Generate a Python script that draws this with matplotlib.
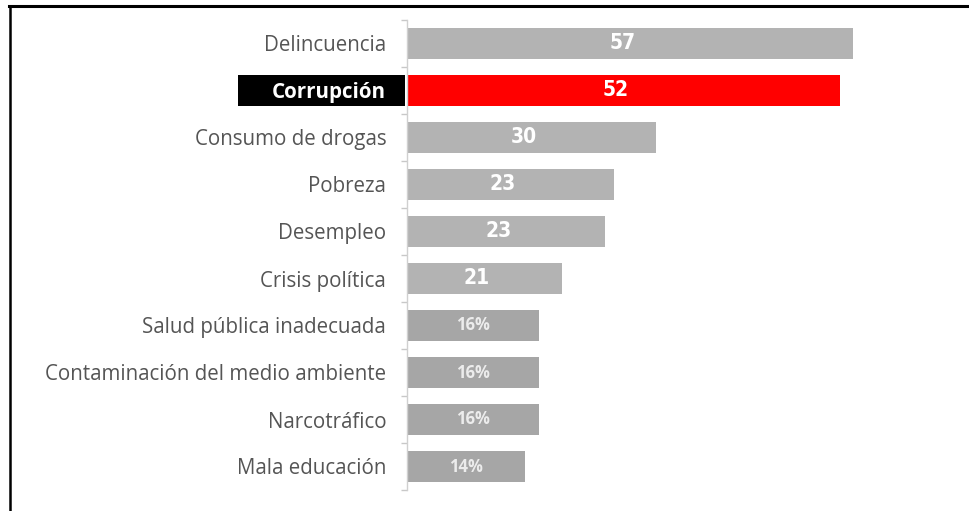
import matplotlib
matplotlib.use("Agg")
import matplotlib.pyplot as plt
import matplotlib.transforms as mtransforms
from matplotlib.patches import Rectangle
from matplotlib.lines import Line2D

# datos
categorias = ["Delincuencia", "Corrupción", "Consumo de drogas", "Pobreza",
              "Desempleo", "Crisis política", "Salud pública inadecuada",
              "Contaminación del medio ambiente", "Narcotráfico", "Mala educación"]
etiquetas = ["57", "52", "30", "23", "23", "21", "16%", "16%", "16%", "14%"]
# largo dibujado de cada barra (no proporcional a la etiqueta en el original)
largos = [57, 55.3, 31.8, 26.5, 25.3, 19.8, 16.9, 16.9, 16.9, 15.1]
destacado = "Corrupción"

W, H = 969, 511
fig = plt.figure(figsize=(W / 100, H / 100), dpi=100)
fig.patch.set_facecolor("white")

ax = fig.add_axes([407 / W, (H - 490) / H, (W - 407) / W, 470 / H])

colores = []
for i, c in enumerate(categorias):
    if c == destacado:
        colores.append("#ff0000")
    elif etiquetas[i].endswith("%"):
        colores.append("#a6a6a6")
    else:
        colores.append("#b3b3b3")

y = list(range(len(categorias)))
barras = ax.barh(y, largos, height=0.68, color=colores)

# etiquetas de valor dentro de las barras
for i, b in enumerate(barras):
    xc = b.get_x() + b.get_width() / 2
    if etiquetas[i].endswith("%"):
        ax.text(xc, i, etiquetas[i], ha="center", va="center", color="#ececec",
                fontsize=12, fontweight="bold", family=["Open Sans", "DejaVu Sans"])
    else:
        ax.text(xc - 1, i, etiquetas[i], ha="center", va="center", color="white",
                fontsize=15, fontweight="bold", fontstretch="condensed",
                family=["DejaVu Sans"])

ax.set_xlim(0, 57 * (W - 407) / 446)
ax.set_ylim(len(categorias) - 0.5, -0.5)

# eje vertical con pequeñas marcas entre categorías
for s in ["top", "right", "bottom"]:
    ax.spines[s].set_visible(False)
ax.spines["left"].set_color("#d0d0d0")
ax.spines["left"].set_linewidth(1.0)
ax.set_xticks([])
ax.set_yticks(y)
ax.set_yticklabels(categorias, fontsize=14.8, color="#555555",
                   family=["Open Sans", "DejaVu Sans"])
ax.tick_params(axis="y", which="major", length=0, pad=15)
ax.set_yticks([k + 0.5 for k in range(-1, len(categorias))], minor=True)
ax.tick_params(axis="y", which="minor", length=4, color="#c8c8c8", width=1)

# recuadro negro para la categoría destacada
idx = categorias.index(destacado)
tr = mtransforms.blended_transform_factory(ax.transAxes, ax.transData)
ax.add_patch(Rectangle((-169 / (W - 407), idx - 0.34), 167 / (W - 407), 0.68,
                       transform=tr, facecolor="black", edgecolor="none",
                       clip_on=False, zorder=1))
for lbl in ax.get_yticklabels():
    if lbl.get_text() == destacado:
        lbl.set_color("white")
        lbl.set_fontweight("bold")
        lbl.set_zorder(3)

# marco del recorte (borde superior e izquierdo)
fig.add_artist(Line2D([9 / W, 1], [1 - 6 / H, 1 - 6 / H], color="black",
                      linewidth=2.2, transform=fig.transFigure))
fig.add_artist(Line2D([10 / W, 10 / W], [0, 1 - 6 / H], color="black",
                      linewidth=1.8, transform=fig.transFigure))

fig.savefig("out.png", dpi=100, facecolor="white")
